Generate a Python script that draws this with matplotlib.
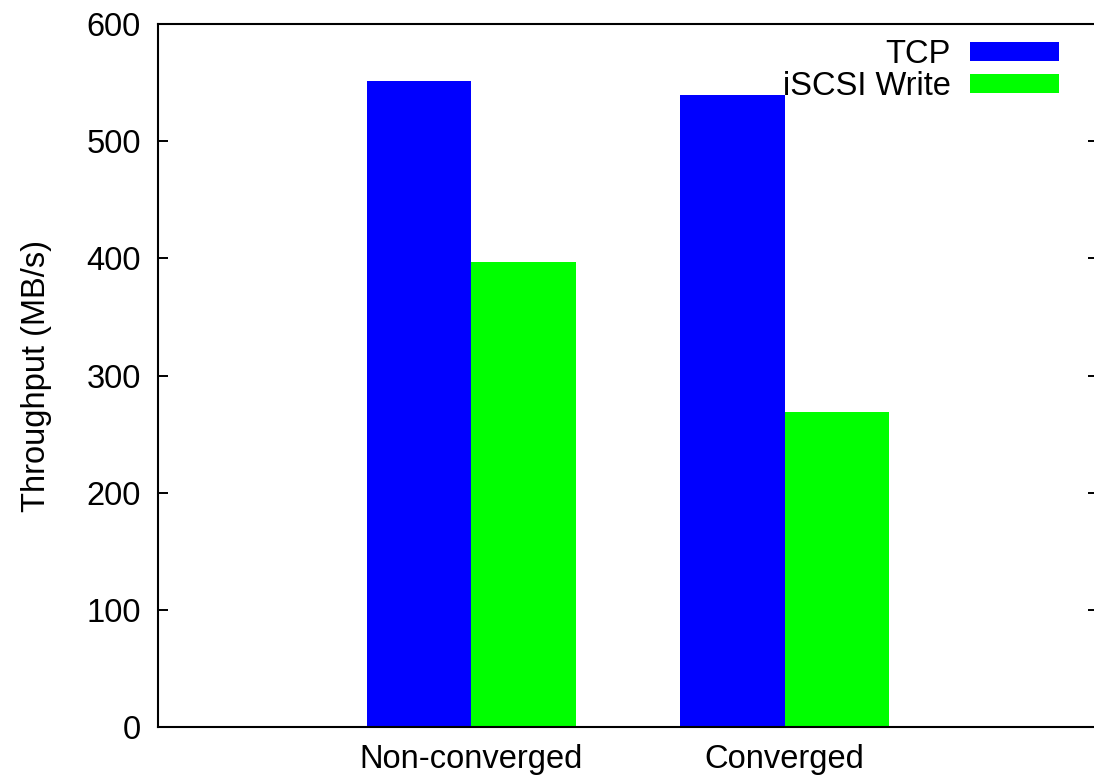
import numpy as np
import matplotlib.pyplot as plt

plt.rcParams['font.family'] = ['Liberation Sans', 'DejaVu Sans']

categories = ['Non-converged', 'Converged']
tcp = [551.5, 539.5]
iscsi_write = [397, 269]

fig = plt.figure(figsize=(10.94, 7.82), dpi=100)
ax = fig.add_axes([0.144, 0.0703, 0.860, 0.899])

x = np.arange(len(categories))
w = 1 / 3
ax.bar(x - w / 2, tcp, w, color='#0000ff', label='TCP')
ax.bar(x + w / 2, iscsi_write, w, color='#00ff00', label='iSCSI Write')

ax.set_xlim(-1, 2)
ax.set_ylim(0, 600)
ax.set_yticks(range(0, 601, 100))
ax.set_xticks(x)
ax.set_xticklabels(categories)
ax.tick_params(axis='y', direction='in', length=7, width=1.4, labelsize=23.5,
               pad=12, right=True)
ax.tick_params(axis='x', length=0, labelsize=23.5, pad=12)
for s in ax.spines.values():
    s.set_linewidth(1.5)
ax.set_ylabel('Throughput (MB/s)', fontsize=23.5, labelpad=25)

ax.legend(loc='upper right', frameon=False, markerfirst=False, fontsize=23.5,
          handlelength=2.7, handleheight=0.52, labelspacing=0.02,
          handletextpad=0.6, borderaxespad=0.0, bbox_to_anchor=(0.9715, 0.997))

fig.savefig('out.png', dpi=100)
